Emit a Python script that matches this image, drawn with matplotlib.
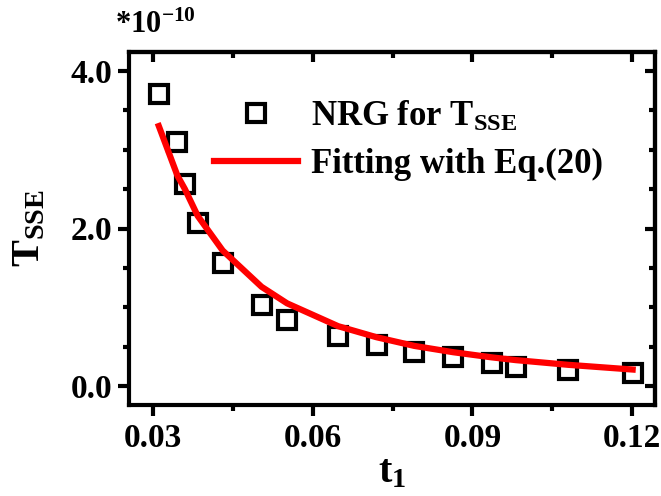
import matplotlib
matplotlib.use("Agg")
from matplotlib import pyplot as plt
from matplotlib.ticker import MultipleLocator

# data (T in units of 1e-10)
t1 = [0.0311, 0.0346, 0.0360, 0.0384, 0.0431, 0.0504, 0.0552, 0.0648,
      0.0720, 0.0791, 0.0864, 0.0936, 0.0981, 0.1080, 0.1201]
nrg = [3.71, 3.10, 2.565, 2.066, 1.566, 1.03, 0.84, 0.635,
       0.52, 0.436, 0.364, 0.296, 0.237, 0.21, 0.16]
fit = [3.30, 2.67, 2.50, 2.16, 1.72, 1.26, 1.05, 0.76,
       0.62, 0.51, 0.43, 0.365, 0.33, 0.27, 0.21]

plt.rcParams['font.family'] = ['Liberation Serif', 'DejaVu Serif']
plt.rcParams['font.weight'] = 'bold'
plt.rcParams['mathtext.fontset'] = 'custom'
plt.rcParams['mathtext.rm'] = 'Liberation Serif:bold'
plt.rcParams['mathtext.it'] = 'Liberation Serif:bold'
plt.rcParams['mathtext.bf'] = 'Liberation Serif:bold'

fig = plt.figure(figsize=(6.61, 4.96), dpi=100)
ax = fig.add_axes([129/661, 91/496, 526/661, 353/496])

ax.plot(t1, nrg, 's', ms=13, mfc='none', mec='black', mew=3,
        label=r'NRG for T$_{\mathrm{SSE}}$')
ax.plot(t1, fit, '-', color='red', lw=4.5, label='Fitting with Eq.(20)')

ax.set_xlim(0.0255, 0.1243)
ax.set_ylim(-0.24, 4.24)
ax.xaxis.set_minor_locator(MultipleLocator(0.015))
ax.yaxis.set_minor_locator(MultipleLocator(0.5))
ax.set_xticks([0.03, 0.06, 0.09, 0.12])
ax.set_xticklabels(['0.03', '0.06', '0.09', '0.12'])
ax.set_yticks([0.0, 2.0, 4.0])
ax.set_yticklabels(['0.0', '2.0', '4.0'])

for s in ax.spines.values():
    s.set_linewidth(3)
ax.tick_params(axis='both', which='major', length=8, width=3, labelsize=24)
ax.tick_params(axis='x', which='major', pad=5)
ax.tick_params(axis='y', which='major', pad=4)
ax.tick_params(axis='both', which='minor', length=4, width=3)
ax.tick_params(axis='x', which='both', direction='out', top=False)
ax.tick_params(axis='y', which='both', direction='out', right=False)
for lab in ax.get_xticklabels() + ax.get_yticklabels():
    lab.set_fontweight('bold')

# inward ticks on top and right
top = ax.secondary_xaxis('top')
top.xaxis.set_major_locator(MultipleLocator(0.03))
top.xaxis.set_minor_locator(MultipleLocator(0.015))
top.tick_params(which='major', direction='in', length=7, width=3, labeltop=False)
top.tick_params(which='minor', direction='in', length=4, width=3)
top.spines['top'].set_linewidth(3)
right = ax.secondary_yaxis('right')
right.yaxis.set_major_locator(MultipleLocator(2.0))
right.yaxis.set_minor_locator(MultipleLocator(0.5))
right.tick_params(which='major', direction='in', length=7, width=3, labelright=False)
right.tick_params(which='minor', direction='in', length=4, width=3)
right.spines['right'].set_linewidth(3)

ax.set_xlabel(r't$_{\mathrm{1}}$', fontsize=29, fontweight='bold', labelpad=0)
ax.set_ylabel(r'T$_{\mathrm{SSE}}$', fontsize=29, fontweight='bold', labelpad=16)
fig.text(115/661, 1 - 33/496, r'*10$^{\mathrm{-10}}$', fontsize=22,
         fontweight='bold', va='baseline', ha='left')

ax.legend(loc='upper left', bbox_to_anchor=(0.129, 0.915), frameon=False,
          borderpad=0, handlelength=2.4, handletextpad=0.4, labelspacing=0.42,
          prop={'weight': 'bold', 'size': 25})

fig.savefig('out.png', dpi=100)
